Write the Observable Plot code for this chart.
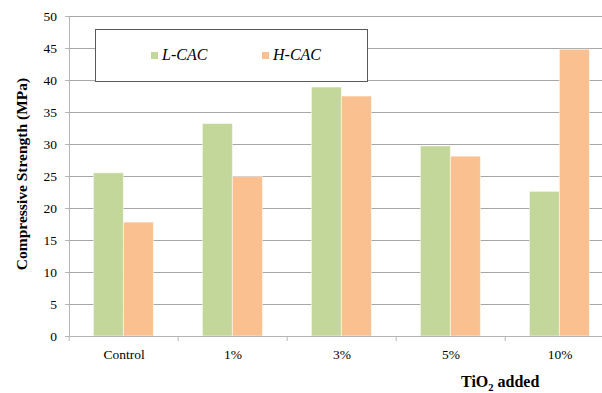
<!DOCTYPE html>
<html>
<head>
<meta charset="utf-8">
<script src="https://cdn.jsdelivr.net/npm/d3@7"></script>
<script src="https://cdn.jsdelivr.net/npm/@observablehq/plot@0.6"></script>
<style>
  html, body { margin: 0; padding: 0; background: #fff; overflow: hidden; }
  #wrap { position: relative; width: 602px; height: 393px; overflow: hidden; }
  #wrap svg, #wrap svg text { font-family: "Liberation Serif", "Times New Roman", Times, "DejaVu Serif", serif; }
  #legend {
    position: absolute; left: 95px; top: 29px; width: 273px; height: 53px;
    border: 1px solid #595959; background: #fff; box-sizing: border-box;
    font-family: "Liberation Serif", "Times New Roman", Times, "DejaVu Serif", serif;
    font-style: italic; font-size: 16px;
  }
  .item { position: absolute; top: 16px; display: flex; align-items: center; }
  .sw { width: 7px; height: 7px; margin-right: 4px; }
</style>
</head>
<body>
<div id="wrap"><div id="legend"></div></div>
<script>
// Compressive strength by TiO2 dosage for the two cement mixes
const categories = ["Control", "1%", "3%", "5%", "10%"];
const series = ["L-CAC", "H-CAC"];
const lcac = [25.5, 33.2, 38.9, 29.7, 22.6];
const hcac = [17.8, 24.9, 37.5, 28.1, 44.8];
const yTicks = [0, 5, 10, 15, 20, 25, 30, 35, 40, 45, 50];
const colors = ["#c4d79b", "#fac090"];

const data = categories.flatMap((c, i) => [
  {category: c, series: series[0], value: lcac[i]},
  {category: c, series: series[1], value: hcac[i]}
]);

// The frame runs slightly past the right edge of the visible area
const width = 616, marginLeft = 67.6;
const step = (width - marginLeft) / categories.length;
const axisGray = "#b5b5b5";
const serif = "'Liberation Serif', 'Times New Roman', Times, 'DejaVu Serif', serif";

const chart = Plot.plot({
  width, height: 393,
  marginLeft, marginRight: 0, marginTop: 16, marginBottom: 57,
  style: {fontFamily: serif, fontSize: "13.5px", color: "#000", background: "transparent", maxWidth: "none"},
  fx: {domain: categories, padding: 0, label: null},
  x: {domain: series, paddingInner: 0, paddingOuter: 0.77, axis: null},
  y: {domain: [0, 50], label: null},
  color: {domain: series, range: colors},
  marks: [
    Plot.gridY(yTicks, {stroke: "#a6a6a6", strokeOpacity: 1}),
    Plot.barY(data, {fx: "category", x: "series", y: "value", fill: "series", stroke: "#fff", strokeOpacity: 0.5, strokeWidth: 1}),
    Plot.ruleY([0], {stroke: axisGray}),
    Plot.frame({anchor: "left", stroke: axisGray, facetAnchor: "left"}),
    Plot.axisY(yTicks, {tickSize: 4, tickPadding: 8.5, stroke: axisGray, label: null}),
    Plot.axisFx({anchor: "bottom", tickSize: 0, tickPadding: 13, label: null}),
    Plot.axisFx({anchor: "bottom", tickSize: 5, dx: -step / 2, tickFormat: () => "", stroke: axisGray, label: null})
  ]
});

const svg = d3.select(chart);
svg.append("text")
  .attr("transform", "translate(21,174) rotate(-90)")
  .attr("text-anchor", "middle")
  .attr("dominant-baseline", "central")
  .attr("font-weight", "bold")
  .attr("font-size", 15.5)
  .text("Compressive Strength (MPa)");

const xt = svg.append("text")
  .attr("x", 461).attr("y", 387)
  .attr("text-anchor", "start")
  .attr("font-weight", "bold")
  .attr("font-size", 16);
xt.append("tspan").text("TiO");
xt.append("tspan").attr("dy", 4).attr("font-size", 10.5).text("2");
xt.append("tspan").attr("dy", -4).text(" added");

const wrap = document.getElementById("wrap");
wrap.insertBefore(chart, wrap.firstChild);

// Legend
const legend = d3.select("#legend");
const lx = [55, 166];
series.forEach((s, i) => {
  const it = legend.append("div").attr("class", "item").style("left", lx[i] + "px");
  it.append("div").attr("class", "sw").style("background", colors[i]);
  it.append("span").text(s);
});
</script>
</body>
</html>
